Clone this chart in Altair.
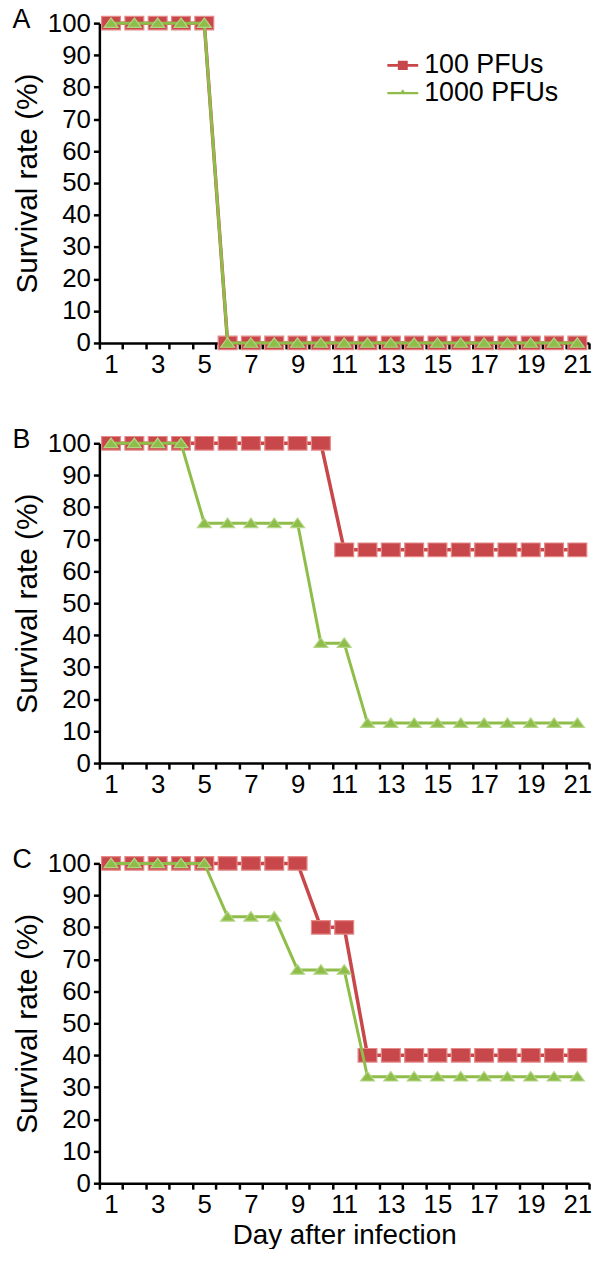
import altair as alt
import pandas as pd

FONT = "Liberation Sans, Arial, sans-serif"
RED = "#c8474a"
RED_EDGE = "#e58a89"
GREEN = "#8fbd4a"
GREEN_EDGE = "#b3d585"

days = [1, 2, 3, 4, 5, 6, 7, 8, 9, 10, 11, 12, 13, 14, 15, 16, 17, 18, 19, 20, 21]
series_names = ["100 PFUs", "1000 PFUs"]
panel_labels = ["A", "B", "C"]
x_label_days = [1, 3, 5, 7, 9, 11, 13, 15, 17, 19, 21]
y_ticks = [0, 10, 20, 30, 40, 50, 60, 70, 80, 90, 100]

a_100 = [100, 100, 100, 100, 100, 0, 0, 0, 0, 0, 0, 0, 0, 0, 0, 0, 0, 0, 0, 0, 0]
a_1000 = [100, 100, 100, 100, 100, 0, 0, 0, 0, 0, 0, 0, 0, 0, 0, 0, 0, 0, 0, 0, 0]
b_100 = [100, 100, 100, 100, 100, 100, 100, 100, 100, 100, 66.7, 66.7, 66.7, 66.7, 66.7, 66.7, 66.7, 66.7, 66.7, 66.7, 66.7]
b_1000 = [100, 100, 100, 100, 75, 75, 75, 75, 75, 37.5, 37.5, 12.5, 12.5, 12.5, 12.5, 12.5, 12.5, 12.5, 12.5, 12.5, 12.5]
c_100 = [100, 100, 100, 100, 100, 100, 100, 100, 100, 80, 80, 40, 40, 40, 40, 40, 40, 40, 40, 40, 40]
c_1000 = [100, 100, 100, 100, 100, 83.3, 83.3, 83.3, 66.7, 66.7, 66.7, 33.3, 33.3, 33.3, 33.3, 33.3, 33.3, 33.3, 33.3, 33.3, 33.3]

panel_data = [(a_100, a_1000), (b_100, b_1000), (c_100, c_1000)]

# tick marks sit between days; labels sit on odd days
tick_positions = [d - 0.5 for d in days] + [days[-1] + 0.5]
x_axis_values = sorted(tick_positions + days)

MARK_SHAPES = ["M-1,-0.72H1V0.72H-1Z", "M0,-0.75L1,0.62H-1Z"]
MARK_SIZES = [361, 196]
MARK_EDGES = [RED_EDGE, GREEN_EDGE]
LINE_WIDTHS = [3.5, 3.0]
LEG_SHAPES = [
    "M-1.15,-0.1H1.15V0.1H-1.15Z M-0.37,-0.34H0.37V0.34H-0.37Z",
    "M-1.15,-0.08H1.15V0.08H-1.15Z M0,-0.3L0.22,0.02H-0.22Z",
]

label_expr = "indexof(" + str(x_label_days) + ", datum.value) >= 0 ? format(datum.value, 'd') : ''"


def panel(idx, s100, s1000):
    df = pd.DataFrame({
        "day": days + days,
        "rate": s100 + s1000,
        "series": [series_names[0]] * len(days) + [series_names[1]] * len(days),
    })
    last = idx == 2
    x = alt.X(
        "day:Q",
        scale=alt.Scale(domain=[0.5, 21.5], nice=False, zero=False),
        axis=alt.Axis(
            values=x_axis_values,
            labelExpr=label_expr,
            tickOpacity={"condition": {"test": "datum.value % 1 === 0", "value": 0}, "value": 1},
            labelOverlap=False,
            labelFlush=False,
            labelPadding=3,
            title="Day after infection" if last else None,
            titleFontSize=28,
            titlePadding=4,
        ),
    )
    y = alt.Y(
        "rate:Q",
        scale=alt.Scale(domain=[0, 100], nice=False),
        axis=alt.Axis(
            values=y_ticks,
            labelPadding=3,
            title="Survival rate (%)",
            titleFontSize=30,
            titlePadding=5,
        ),
    )
    color = alt.Color("series:N", scale=alt.Scale(domain=series_names, range=[RED, GREEN]), legend=None)

    base = alt.Chart(df)
    layers = []
    for si, name in enumerate(series_names):
        sub = base.transform_filter(alt.datum.series == name)
        layers.append(sub.mark_line(strokeWidth=LINE_WIDTHS[si]).encode(x=x, y=y, color=color))
        layers.append(
            sub.mark_point(
                filled=True, opacity=1, strokeWidth=1.2,
                shape=MARK_SHAPES[si], size=MARK_SIZES[si], stroke=MARK_EDGES[si],
            ).encode(x=x, y=y, color=color)
        )
    if idx == 0:
        leg = alt.Legend(
            title=None,
            orient="none",
            legendX=292,
            legendY=29,
            symbolSize=729,
            symbolStrokeWidth=0,
            labelFontSize=27,
            labelFont=FONT,
            labelColor="black",
            labelOffset=8,
            rowPadding=0,
            padding=0,
        )
        layers.append(
            base.transform_filter("false").mark_point(filled=True, opacity=1).encode(
                x=x, y=y,
                color=alt.Color("series:N", scale=alt.Scale(domain=series_names, range=[RED, GREEN]), legend=leg),
                shape=alt.Shape("series:N", scale=alt.Scale(domain=series_names, range=LEG_SHAPES), legend=leg),
            )
        )
    return alt.layer(*layers).resolve_scale(color="independent", shape="independent").properties(
        width=493,
        height=322,
        title=alt.TitleParams(
            panel_labels[idx],
            anchor="start",
            frame="bounds",
            fontSize=27,
            fontWeight="normal",
            font=FONT,
            color="black",
            baseline="top",
            offset=-24,
        ),
    )


panels = [panel(i, *panel_data[i]) for i in range(3)]

chart = alt.vconcat(*panels, spacing=101, bounds="flush").resolve_scale(
    color="independent", shape="independent"
).configure_view(stroke=None).configure_axis(
    grid=False,
    domainColor="black",
    domainWidth=2.5,
    tickColor="black",
    tickWidth=2.5,
    tickSize=6,
    labelFont=FONT,
    labelFontSize=26,
    labelColor="black",
    titleFont=FONT,
    titleColor="black",
    titleFontWeight="normal",
).properties(padding={"left": 4, "top": -6, "right": 0, "bottom": -5})

chart.save("out.html", embed_options={"renderer": "svg", "actions": False})
